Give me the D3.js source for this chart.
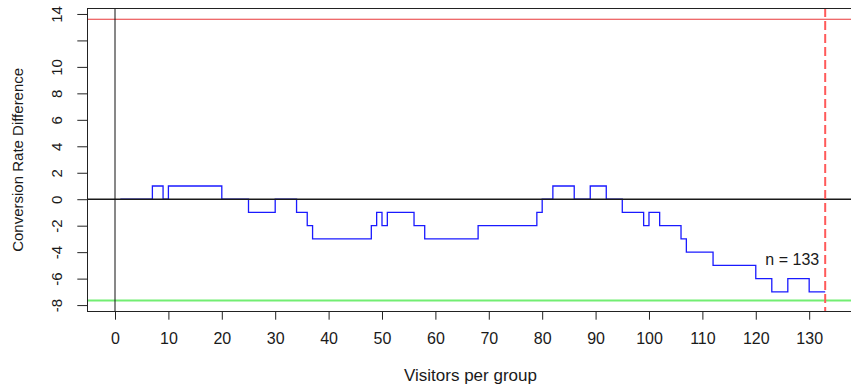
<!DOCTYPE html>
<html>
<head>
<meta charset="utf-8">
<script src="https://cdn.jsdelivr.net/npm/d3@7"></script>
<style>
  html, body { margin: 0; padding: 0; background: #fff; }
  svg { display: block; font-family: "Liberation Sans", Arial, sans-serif; }
</style>
</head>
<body>
<div id="chart"></div>
<script>
// visitors per group where the difference changes, and the new difference
const stepN = [1, 7, 9, 10, 20, 25, 30, 34, 36, 37, 48, 49, 50, 51, 56, 58, 68, 79, 80, 82, 86, 89, 92, 95, 99, 100, 102, 106, 107, 112, 120, 123, 126, 130, 133];
const stepDiff = [0, 1, 0, 1, 0, -1, 0, -1, -2, -3, -2, -1, -2, -1, -2, -3, -2, -1, 0, 1, 0, 1, 0, -1, -2, -1, -2, -3, -4, -5, -6, -7, -6, -7, -7];

const upperBound = 13.6;
const lowerBound = -7.65;
const sampleSize = 133;

const xTicks = [0, 10, 20, 30, 40, 50, 60, 70, 80, 90, 100, 110, 120, 130];
const yTicks = [-8, -6, -4, -2, 0, 2, 4, 6, 8, 10, 12, 14];
const yTickLabels = ["-8", "-6", "-4", "-2", "0", "2", "4", "6", "8", "10", "", "14"];

const dims = { x: 851, y: 385 };
const plot = { left: 87.3, right: 853.6, top: 8, bottom: 311.7 };

const svg = d3.select("#chart").append("svg")
  .attr("width", dims.x)
  .attr("height", dims.y)
  .attr("viewBox", `0 0 ${dims.x} ${dims.y}`);

// R style: data range padded by 4% on each side
const scaleX = d3.scaleLinear()
  .domain([-5.32, 138.32])
  .range([86.6, 853.6]);

const scaleY = d3.scaleLinear()
  .domain([-8.5, 14.45])
  .range([plot.bottom, plot.top]);

const data = stepN.map((n, i) => ({ x: n, y: stepDiff[i] }));

// step line
const line = d3.line()
  .x((d) => scaleX(d.x))
  .y((d) => scaleY(d.y))
  .curve(d3.curveStepAfter);

svg.append("path")
  .attr("d", line(data))
  .attr("fill", "none")
  .attr("stroke", "#1a1aff")
  .attr("stroke-width", 1.3);

// reference lines
const hLine = (v, color, width) =>
  svg.append("line")
    .attr("x1", plot.left).attr("x2", dims.x)
    .attr("y1", scaleY(v)).attr("y2", scaleY(v))
    .attr("stroke", color).attr("stroke-width", width);

hLine(0, "#1a1a1a", 1.5);
hLine(upperBound, "#e8383a", 1.2);
hLine(lowerBound, "#72ee72", 2);

svg.append("line")
  .attr("x1", scaleX(0)).attr("x2", scaleX(0))
  .attr("y1", plot.top).attr("y2", plot.bottom)
  .attr("stroke", "#111").attr("stroke-width", 1);

svg.append("line")
  .attr("x1", scaleX(sampleSize)).attr("x2", scaleX(sampleSize))
  .attr("y1", plot.top).attr("y2", plot.bottom)
  .attr("stroke", "#ff5a5a").attr("stroke-width", 2)
  .attr("stroke-dasharray", "9,4");

svg.append("text")
  .attr("x", scaleX(sampleSize) - 6)
  .attr("y", scaleY(-5))
  .attr("text-anchor", "end")
  .attr("font-size", 16)
  .attr("fill", "#1a1a1a")
  .text(`n = ${sampleSize}`);

// box
svg.append("rect")
  .attr("x", 87.5).attr("y", 8.5)
  .attr("width", plot.right - 87.5).attr("height", 303)
  .attr("fill", "none")
  .attr("stroke", "#222").attr("stroke-width", 1);

// axes
const axisX = d3.axisBottom(scaleX).tickValues(xTicks).tickSize(8).tickSizeOuter(0);
const axisY = d3.axisLeft(scaleY).tickValues(yTicks).tickSize(10).tickSizeOuter(0)
  .tickFormat((d, i) => yTickLabels[i]);

const bottomAxis = svg.append("g")
  .attr("transform", `translate(0, ${plot.bottom})`)
  .call(axisX);

bottomAxis.select(".domain").remove();
bottomAxis.selectAll("line").attr("stroke", "#222");
bottomAxis.selectAll("text")
  .attr("y", 32).attr("dy", 0)
  .attr("font-size", 16)
  .attr("font-family", "Liberation Sans, Arial, sans-serif")
  .attr("fill", "#1a1a1a");

const leftAxis = svg.append("g")
  .attr("transform", `translate(${plot.left}, 0)`)
  .call(axisY);

leftAxis.select(".domain").remove();
leftAxis.selectAll("line").attr("stroke", "#222");
leftAxis.selectAll("text")
  .attr("x", 0).attr("dy", 0)
  .attr("text-anchor", "middle")
  .attr("transform", "translate(-25, 0) rotate(-90)")
  .attr("font-size", 15)
  .attr("font-family", "Liberation Sans, Arial, sans-serif")
  .attr("fill", "#1a1a1a");

// titles
svg.append("text")
  .attr("x", (plot.left + plot.right) / 2)
  .attr("y", 381)
  .attr("text-anchor", "middle")
  .attr("font-size", 17)
  .attr("fill", "#1a1a1a")
  .text("Visitors per group");

svg.append("text")
  .attr("transform", `translate(22.5, ${(plot.top + plot.bottom) / 2}) rotate(-90)`)
  .attr("text-anchor", "middle")
  .attr("font-size", 15)
  .attr("fill", "#1a1a1a")
  .text("Conversion Rate Difference");
</script>
</body>
</html>
